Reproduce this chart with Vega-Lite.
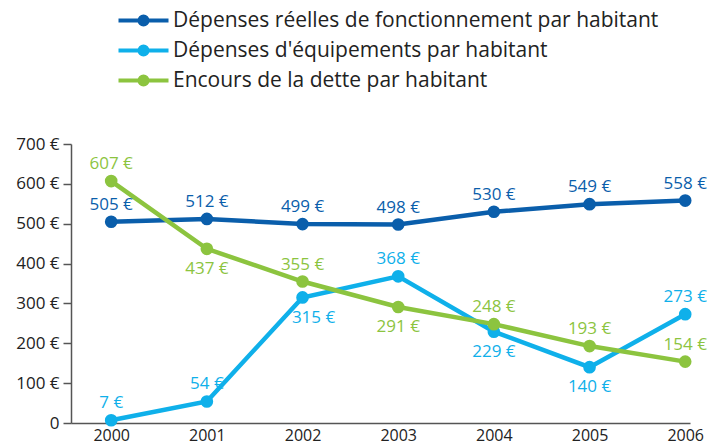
{
  "$schema": "https://vega.github.io/schema/vega-lite/v6.json",
  "width": 619,
  "height": 279,
  "autosize": {"type": "none"},
  "padding": {"left": 71, "top": 144, "right": 19, "bottom": 23},
  "background": "white",
  "config": {
    "view": {"stroke": null},
    "font": "Open Sans"
  },
  "data": {
    "values": [
      {"year": 2000, "serie": "Dépenses réelles de fonctionnement par habitant", "value": 505},
      {"year": 2001, "serie": "Dépenses réelles de fonctionnement par habitant", "value": 512},
      {"year": 2002, "serie": "Dépenses réelles de fonctionnement par habitant", "value": 499},
      {"year": 2003, "serie": "Dépenses réelles de fonctionnement par habitant", "value": 498},
      {"year": 2004, "serie": "Dépenses réelles de fonctionnement par habitant", "value": 530},
      {"year": 2005, "serie": "Dépenses réelles de fonctionnement par habitant", "value": 549},
      {"year": 2006, "serie": "Dépenses réelles de fonctionnement par habitant", "value": 558},
      {"year": 2000, "serie": "Dépenses d'équipements par habitant", "value": 7},
      {"year": 2001, "serie": "Dépenses d'équipements par habitant", "value": 54},
      {"year": 2002, "serie": "Dépenses d'équipements par habitant", "value": 315},
      {"year": 2003, "serie": "Dépenses d'équipements par habitant", "value": 368},
      {"year": 2004, "serie": "Dépenses d'équipements par habitant", "value": 229},
      {"year": 2005, "serie": "Dépenses d'équipements par habitant", "value": 140},
      {"year": 2006, "serie": "Dépenses d'équipements par habitant", "value": 273},
      {"year": 2000, "serie": "Encours de la dette par habitant", "value": 607},
      {"year": 2001, "serie": "Encours de la dette par habitant", "value": 437},
      {"year": 2002, "serie": "Encours de la dette par habitant", "value": 355},
      {"year": 2003, "serie": "Encours de la dette par habitant", "value": 291},
      {"year": 2004, "serie": "Encours de la dette par habitant", "value": 248},
      {"year": 2005, "serie": "Encours de la dette par habitant", "value": 193},
      {"year": 2006, "serie": "Encours de la dette par habitant", "value": 154}
    ]
  },
  "transform": [
    {"calculate": "datum.value + ' €'", "as": "label"},
    {"calculate": "(datum.serie == \"Dépenses d'équipements par habitant\" && (datum.year == 2004 || datum.year == 2005)) || (datum.serie == 'Encours de la dette par habitant' && (datum.year == 2001 || datum.year == 2003))", "as": "below"},
    {"calculate": "datum.serie == \"Dépenses d'équipements par habitant\" && datum.year == 2002", "as": "belowright"},
    {"calculate": "indexof(['Dépenses réelles de fonctionnement par habitant', \"Dépenses d'équipements par habitant\", 'Encours de la dette par habitant'], datum.serie)", "as": "ord"}
  ],
  "encoding": {
    "x": {
      "field": "year",
      "type": "quantitative",
      "scale": {"domain": [1999.58, 2006.05], "nice": false, "zero": false},
      "axis": {
        "values": [2000, 2001, 2002, 2003, 2004, 2005, 2006],
        "format": "d",
        "title": null,
        "grid": false,
        "ticks": false,
        "domainColor": "#555555",
        "domainWidth": 1.5,
        "labelFontSize": 16,
        "labelFontWeight": 500,
        "labelColor": "#222222",
        "labelPadding": 4,
        "labelFlush": false
      }
    },
    "y": {
      "field": "value",
      "type": "quantitative",
      "scale": {"domain": [0, 700], "nice": false},
      "axis": {
        "values": [0, 100, 200, 300, 400, 500, 600, 700],
        "labelExpr": "datum.value == 0 ? '0' : datum.value + ' €'",
        "title": null,
        "grid": false,
        "tickSize": 8,
        "tickColor": "#555555",
        "tickWidth": 1.5,
        "domainColor": "#555555",
        "domainWidth": 1.5,
        "labelFontSize": 17,
        "labelColor": "#222222",
        "labelPadding": 4
      }
    },
    "color": {
      "field": "serie",
      "type": "nominal",
      "scale": {
        "domain": ["Dépenses réelles de fonctionnement par habitant", "Dépenses d'équipements par habitant", "Encours de la dette par habitant"],
        "range": ["#0a5eab", "#0fb0ea", "#8cc43f"]
      },
      "legend": {
        "title": null,
        "orient": "none",
        "legendX": 58,
        "legendY": -138,
        "symbolType": "M-2,0H2M-0.32,0a0.32,0.32 0 1,0 0.64,0a0.32,0.32 0 1,0 -0.64,0",
        "symbolSize": 625,
        "symbolStrokeWidth": 4,
        "labelFontSize": 21,
        "labelColor": "#222222",
        "labelOffset": 15,
        "labelLimit": 650,
        "rowPadding": 3
      }
    },
    "order": {"field": "ord", "type": "quantitative"}
  },
  "layer": [
    {"mark": {"type": "line", "strokeWidth": 4.5}},
    {"mark": {"type": "point", "filled": true, "size": 160, "opacity": 1}},
    {
      "transform": [{"filter": "!datum.below && !datum.belowright"}],
      "mark": {"type": "text", "dy": -17, "fontSize": 17, "baseline": "middle"},
      "encoding": {"text": {"field": "label"}}
    },
    {
      "transform": [{"filter": "datum.below"}],
      "mark": {"type": "text", "dy": 20, "fontSize": 17, "baseline": "middle"},
      "encoding": {"text": {"field": "label"}}
    },
    {
      "transform": [{"filter": "datum.belowright"}],
      "mark": {"type": "text", "dy": 21, "dx": 11, "fontSize": 17, "baseline": "middle"},
      "encoding": {"text": {"field": "label"}}
    }
  ]
}
